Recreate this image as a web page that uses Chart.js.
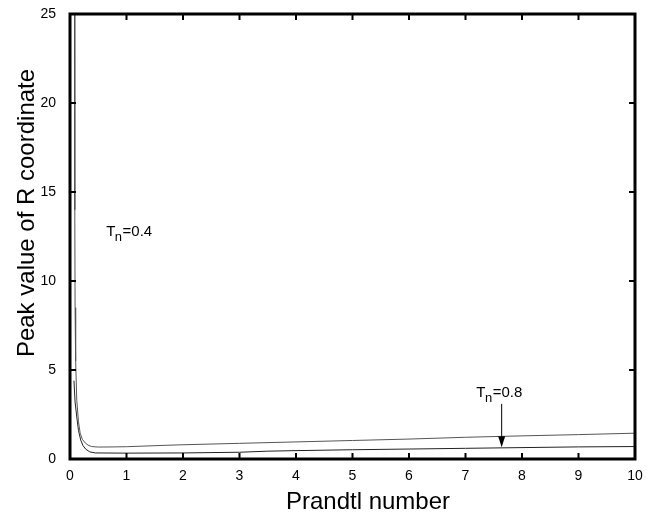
<!DOCTYPE html>
<html>
<head>
<meta charset="utf-8">
<script src="https://cdn.jsdelivr.net/npm/chart.js@4"></script>
<style>
  html, body { margin: 0; padding: 0; background: #fff; }
  #wrap { width: 647px; height: 519px; }
</style>
</head>
<body>
<div id="wrap"><canvas id="c" width="647" height="519"></canvas></div>
<script>
// ---- data ----
const prandtlTn04 = [0.08, 0.085, 0.09, 0.1, 0.12, 0.15, 0.18, 0.22, 0.27, 0.32, 0.38, 0.5, 0.8, 1, 1.7, 2, 3, 4, 5, 6, 7, 8, 9, 10];
const peakTn04    = [25, 14, 8.5, 5.5, 3.3, 2.1, 1.45, 1.1, 0.9, 0.78, 0.7, 0.67, 0.68, 0.69, 0.77, 0.8, 0.88, 0.96, 1.04, 1.12, 1.22, 1.3, 1.37, 1.45];

const prandtlTn08 = [0.07, 0.09, 0.12, 0.15, 0.19, 0.23, 0.28, 0.35, 0.45, 1, 2, 3, 3.5, 4, 5, 6, 7, 8, 9, 10];
const peakTn08    = [4.4, 3.2, 2.36, 1.6, 1.06, 0.75, 0.55, 0.4, 0.34, 0.33, 0.34, 0.38, 0.44, 0.47, 0.52, 0.56, 0.6, 0.64, 0.68, 0.7];

const xTicks = [0, 1, 2, 3, 4, 5, 6, 7, 8, 9, 10];
const yTicks = [0, 5, 10, 15, 20, 25];

const xTitle = 'Prandtl number';
const yTitle = 'Peak value of R coordinate';

const labelTn04 = { x: 0.64, y: 12.55, main: 'T', sub: 'n', rest: '=0.4' };
const labelTn08 = { x: 7.19, y: 3.48, main: 'T', sub: 'n', rest: '=0.8' };
const arrowTn08 = { x: 7.64, yFrom: 3.1, yTo: 0.66 };

const FONT = "'Liberation Sans', Arial, Helvetica, sans-serif";

function toPoints(xs, ys) { return xs.map((x, i) => ({ x: x, y: ys[i] })); }
function noPad(s) { s.paddingTop = 0; s.paddingBottom = 0; s.paddingLeft = 0; s.paddingRight = 0; }

const frame = {
  id: 'frame',
  afterDraw(chart) {
    const { ctx, chartArea: a, scales: { x, y } } = chart;
    ctx.save();
    ctx.strokeStyle = '#000';
    // ticks, inward on all four sides
    ctx.lineWidth = 2;
    const tl = 6;
    xTicks.forEach(v => {
      const px = x.getPixelForValue(v);
      ctx.beginPath();
      ctx.moveTo(px, a.bottom); ctx.lineTo(px, a.bottom - tl);
      ctx.moveTo(px, a.top); ctx.lineTo(px, a.top + tl);
      ctx.stroke();
    });
    yTicks.forEach(v => {
      const py = y.getPixelForValue(v);
      ctx.beginPath();
      ctx.moveTo(a.left, py); ctx.lineTo(a.left + tl, py);
      ctx.moveTo(a.right, py); ctx.lineTo(a.right - tl, py);
      ctx.stroke();
    });
    // box
    ctx.lineWidth = 3;
    ctx.strokeRect(a.left, a.top, a.right - a.left, a.bottom - a.top);

    // axis titles (placed as in the reference figure)
    ctx.fillStyle = '#000';
    ctx.font = '24px ' + FONT;
    ctx.textAlign = 'center';
    ctx.textBaseline = 'middle';
    ctx.fillText(xTitle, 368, 502);
    ctx.save();
    ctx.translate(27, 213);
    ctx.rotate(-Math.PI / 2);
    ctx.fillText(yTitle, 0, 0);
    ctx.restore();

    // annotations
    ctx.textBaseline = 'alphabetic';
    ctx.textAlign = 'left';
    [labelTn04, labelTn08].forEach(l => {
      let px = x.getPixelForValue(l.x);
      const py = y.getPixelForValue(l.y);
      ctx.font = '15px ' + FONT;
      ctx.fillText(l.main, px, py);
      px += ctx.measureText(l.main).width - 0.5;
      ctx.font = '13px ' + FONT;
      ctx.fillText(l.sub, px, py + 5);
      px += ctx.measureText(l.sub).width + 0.5;
      ctx.font = '15px ' + FONT;
      ctx.fillText(l.rest, px, py);
    });
    // arrow
    const ax = x.getPixelForValue(arrowTn08.x);
    const ay0 = y.getPixelForValue(arrowTn08.yFrom);
    const ay1 = y.getPixelForValue(arrowTn08.yTo);
    ctx.lineWidth = 1;
    ctx.beginPath();
    ctx.moveTo(ax, ay0); ctx.lineTo(ax, ay1 - 8);
    ctx.stroke();
    ctx.beginPath();
    ctx.moveTo(ax - 3.5, ay1 - 11);
    ctx.lineTo(ax + 3.5, ay1 - 11);
    ctx.lineTo(ax, ay1);
    ctx.closePath();
    ctx.fill();
    ctx.restore();
  }
};

new Chart(document.getElementById('c'), {
  type: 'line',
  data: {
    datasets: [
      { label: 'Tn=0.4', data: toPoints(prandtlTn04, peakTn04), borderColor: '#555', borderWidth: 1, pointRadius: 0, tension: 0, fill: false },
      { label: 'Tn=0.8', data: toPoints(prandtlTn08, peakTn08), borderColor: '#222', borderWidth: 1, pointRadius: 0, tension: 0, fill: false }
    ]
  },
  options: {
    responsive: false,
    animation: false,
    devicePixelRatio: 1,
    layout: { padding: { left: 0, right: 12, top: 14, bottom: 0 } },
    plugins: { legend: { display: false }, tooltip: { enabled: false } },
    scales: {
      x: {
        type: 'linear', min: 0, max: 10,
        afterFit(s) { s.height = 60; noPad(s); },
        afterBuildTicks(s) { s.ticks = xTicks.map(v => ({ value: v })); },
        grid: { display: false, drawTicks: false },
        border: { display: false },
        ticks: { color: '#000', font: { family: FONT, size: 14 }, padding: 9, maxRotation: 0, autoSkip: false },
        title: { display: false, text: xTitle }
      },
      y: {
        type: 'linear', min: 0, max: 25,
        afterFit(s) { s.width = 70; noPad(s); },
        afterBuildTicks(s) { s.ticks = yTicks.map(v => ({ value: v })); },
        grid: { display: false, drawTicks: false },
        border: { display: false },
        ticks: { color: '#000', font: { family: FONT, size: 14 }, padding: 14, autoSkip: false },
        title: { display: false, text: yTitle }
      }
    }
  },
  plugins: [frame]
});
</script>
</body>
</html>
